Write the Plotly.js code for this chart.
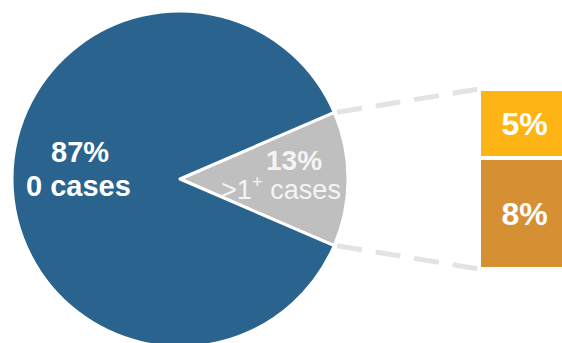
<!DOCTYPE html>
<html>
<head>
<meta charset="utf-8">
<script src="https://cdn.plot.ly/plotly-3.0.1.min.js"></script>
<style>
html,body{margin:0;padding:0;overflow:hidden;background:#fff;width:562px;height:343px;}
#chart{width:570px;height:360px;}
</style>
</head>
<body>
<div id="chart"></div>
<script>
// ---- data ----
const pieLabels = ['>1<sup>+</sup> cases', '0 cases'];
const pieValues = [13, 87];
const pieColors = ['#bfbfbf', '#29638e'];

const breakdownLabels = ['8%', '5%'];   // bottom to top
const breakdownValues = [8, 5];
const breakdownColors = ['#d69034', '#fdb414'];

// ---- geometry (pixels in layout) ----
const W = 570, H = 360;
const fx = p => p / W;
const fy = p => 1 - p / H;
const cx = 180, cy = 179, R = 168;
const barLeft = 479, barTop = 89, barBottom = 269;

const font = 'Liberation Sans, Arial, sans-serif';
const half = pieValues[0] / 100 * 360 / 2;

const pie = {
  type: 'pie',
  labels: pieLabels,
  values: pieValues,
  sort: false,
  direction: 'clockwise',
  rotation: 90 - half,
  marker: {colors: pieColors, line: {color: '#ffffff', width: 3}},
  textinfo: 'none',
  hoverinfo: 'skip',
  showlegend: false,
  domain: {x: [fx(cx - R), fx(cx + R)], y: [fy(cy + R), fy(cy - R)]}
};

const bars = breakdownValues.map((v, i) => ({
  type: 'bar',
  x: [0],
  y: [v],
  width: 1,
  marker: {color: breakdownColors[i], line: {color: '#ffffff', width: 4}},
  text: [breakdownLabels[i]],
  textposition: 'inside',
  insidetextanchor: 'middle',
  textangle: 0,
  textfont: {family: font, size: 32, color: '#ffffff', weight: 700},
  hoverinfo: 'skip',
  showlegend: false,
  xaxis: 'x', yaxis: 'y'
}));

const total = breakdownValues.reduce((a, b) => a + b, 0);
const rad = half * Math.PI / 180;
const sx = cx + R * Math.cos(rad);
const syTop = cy - R * Math.sin(rad);
const syBot = cy + R * Math.sin(rad);
const dashLine = {color: '#e3e3e3', width: 5, dash: '25px,14px'};

const layout = {
  width: W, height: H,
  margin: {l: 0, r: 0, t: 0, b: 0},
  paper_bgcolor: '#ffffff', plot_bgcolor: 'rgba(0,0,0,0)',
  barmode: 'stack',
  xaxis: {domain: [fx(barLeft), 1], range: [-0.5, 0.5], visible: false, fixedrange: true},
  yaxis: {domain: [fy(barBottom), fy(barTop)], range: [0, total], visible: false, fixedrange: true},
  shapes: [
    {type: 'line', xref: 'paper', yref: 'paper', x0: fx(sx + 3), y0: fy(syTop), x1: fx(barLeft), y1: fy(barTop), line: dashLine, layer: 'below'},
    {type: 'line', xref: 'paper', yref: 'paper', x0: fx(sx + 3), y0: fy(syBot), x1: fx(barLeft), y1: fy(barBottom), line: dashLine, layer: 'below'}
  ],
  annotations: [
    {text: pieValues[1] + '%', x: fx(79.5), y: fy(152), xref: 'paper', yref: 'paper', showarrow: false,
     xanchor: 'center', yanchor: 'middle', font: {family: font, size: 29, color: '#ffffff', weight: 700}},
    {text: pieLabels[1], x: fx(78.5), y: fy(186), xref: 'paper', yref: 'paper', showarrow: false,
     xanchor: 'center', yanchor: 'middle', font: {family: font, size: 29, color: '#ffffff', weight: 700}},
    {text: pieValues[0] + '%', x: fx(293.5), y: fy(160), xref: 'paper', yref: 'paper', showarrow: false,
     xanchor: 'center', yanchor: 'middle', font: {family: font, size: 28, color: '#f4f4f4', weight: 700}},
    {text: pieLabels[0], x: fx(281), y: fy(188), xref: 'paper', yref: 'paper', showarrow: false,
     xanchor: 'center', yanchor: 'middle', font: {family: font, size: 27, color: '#f4f4f4'}}
  ]
};

Plotly.newPlot('chart', [pie, ...bars], layout, {staticPlot: true, displayModeBar: false});
</script>
</body>
</html>
